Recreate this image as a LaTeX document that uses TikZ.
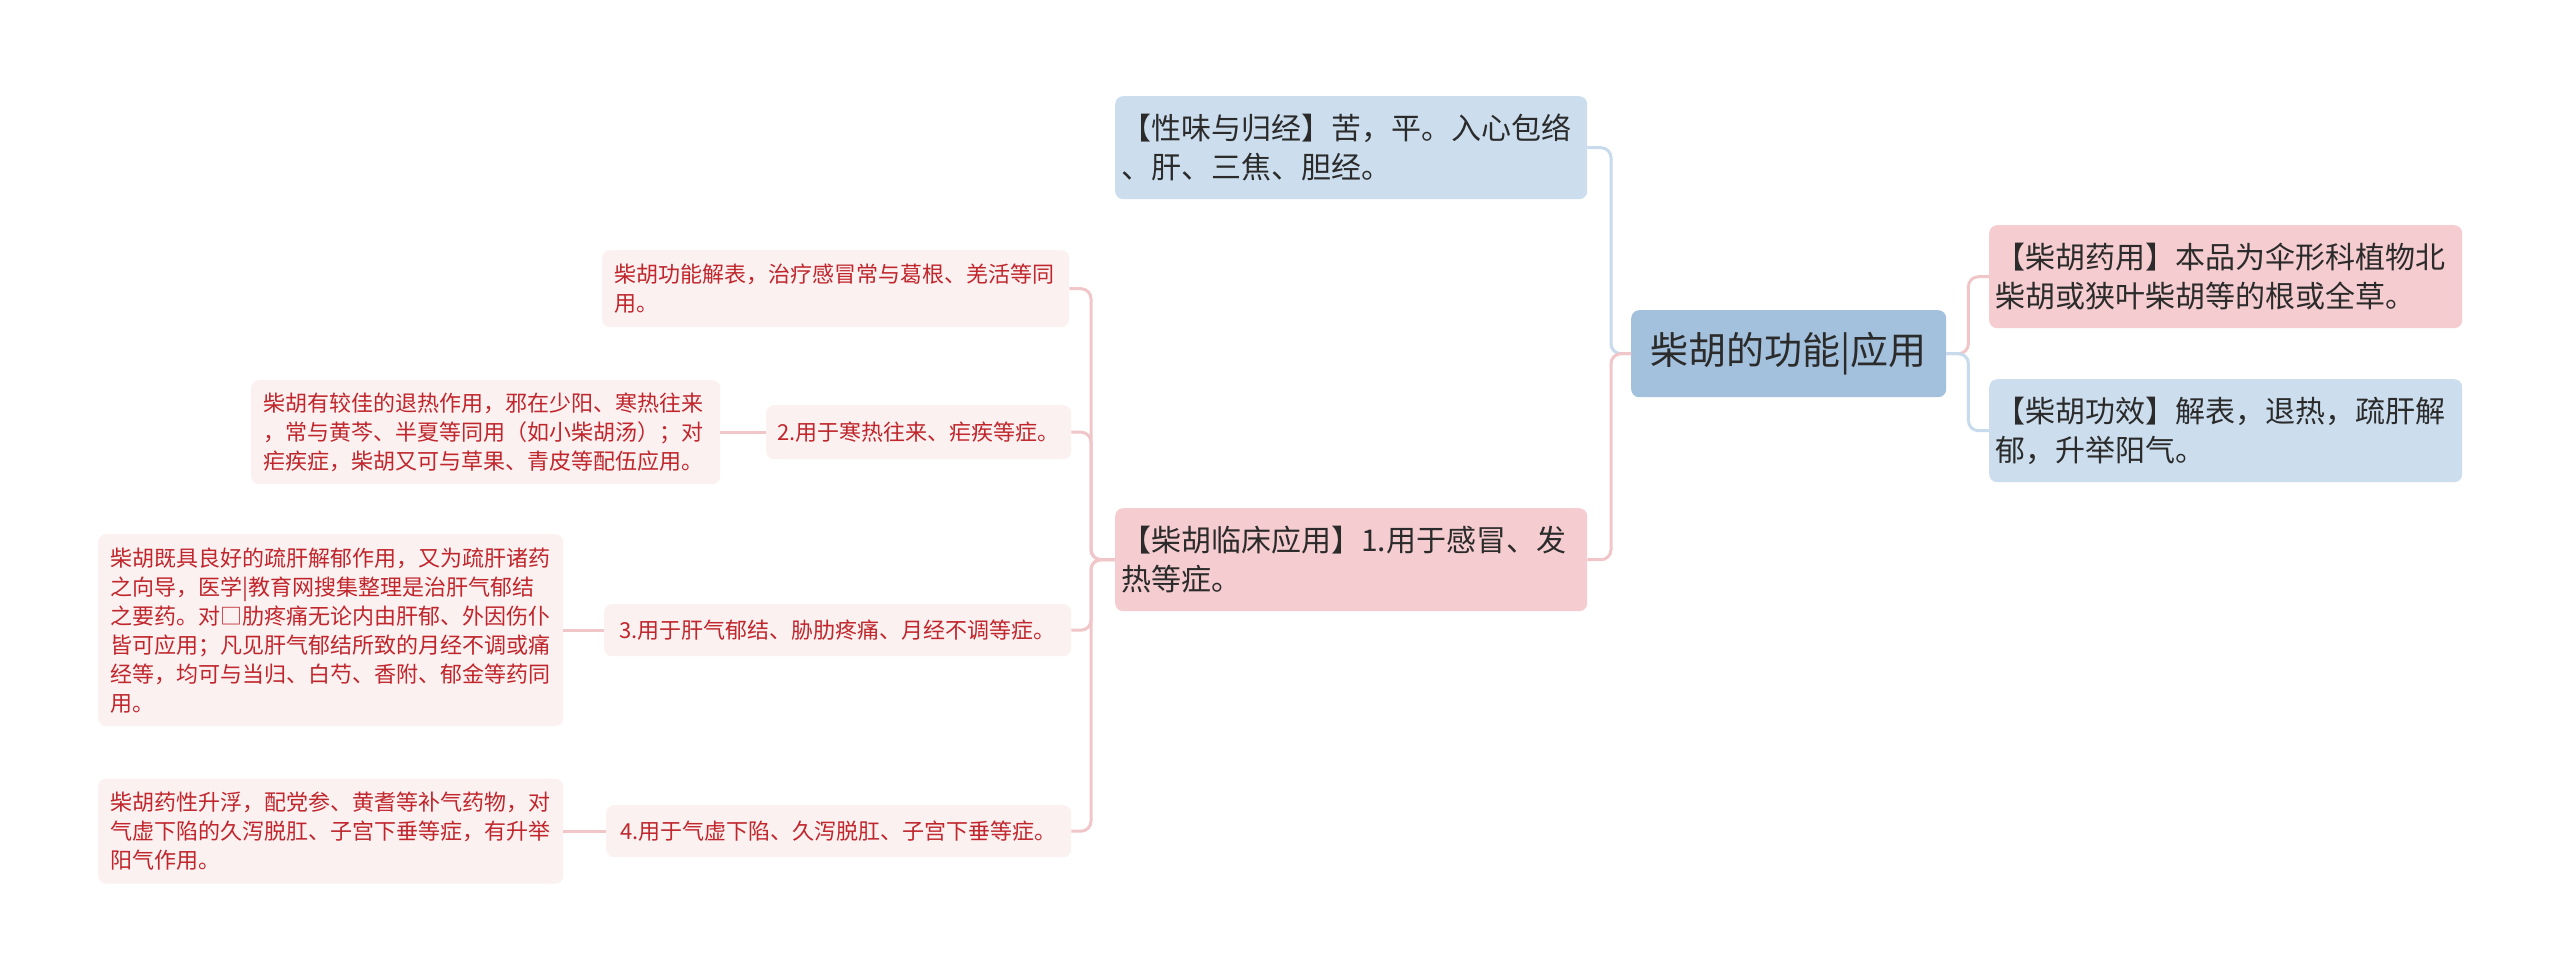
\documentclass[tikz,border=0pt]{standalone}
\usepackage{fontspec}
\setmainfont{Noto Sans CJK SC}
\definecolor{rootfill}{HTML}{A3C1DD}
\definecolor{bluefill}{HTML}{CCDEEE}
\definecolor{pinkfill}{HTML}{F5CCCF}
\definecolor{leaffill}{HTML}{FCF1F1}
\definecolor{leaftext}{HTML}{C0262C}
\definecolor{darktext}{HTML}{2B2B2B}
\definecolor{pinkline}{HTML}{F1C6C9}
\definecolor{blueline}{HTML}{C7DBEC}
\begin{document}
\begin{tikzpicture}[x=1pt,y=-1pt,
  box/.style={draw=none, rounded corners=8pt, anchor=north west, inner ysep=0pt, text=darktext},
  mainbox/.style={box, inner xsep=6pt, text width=460pt, minimum height=103pt, align=left, font=\fontsize{30}{39}\selectfont},
  leafbox/.style={box, fill=leaffill, text=leaftext, inner xsep=12pt, align=left, font=\fontsize{22}{29}\selectfont},
  subbox/.style={box, fill=leaffill, text=leaftext, inner xsep=0pt, align=center, font=\fontsize{22}{29}\selectfont, minimum height=52pt},
  pconn/.style={draw=pinkline, line width=3pt, rounded corners=10pt},
  bconn/.style={draw=blueline, line width=3pt, rounded corners=10pt}]
\useasboundingbox (0,0) rectangle (2560,980);
\fill[white] (0,0) rectangle (2560,980);

% root
\node[box, fill=rootfill, minimum width=315pt, minimum height=87pt, inner xsep=0pt,
  font=\fontsize{38}{44}\selectfont, text=darktext] (root) at (1631,310) {柴胡的功能|应用};

% main branches
\node[mainbox, fill=bluefill] (xw) at (1115,96) {【性味与归经】苦，平。入心包络\\、肝、三焦、胆经。};
\node[mainbox, fill=pinkfill] (lc) at (1115,508) {【柴胡临床应用】1.用于感冒、发\\热等症。};
\node[mainbox, fill=pinkfill, text width=461pt] (yy) at (1989,225) {【柴胡药用】本品为伞形科植物北\\柴胡或狭叶柴胡等的根或全草。};
\node[mainbox, fill=bluefill, text width=461pt] (gx) at (1989,379) {【柴胡功效】解表，退热，疏肝解\\郁，升举阳气。};

% clinical sub-branches
\node[leafbox, text width=443pt, minimum height=77pt] (l1) at (602,250) {柴胡功能解表，治疗感冒常与葛根、羌活等同\\用。};
\node[subbox, minimum width=305pt, minimum height=54pt] (n2) at (766,405) {2.用于寒热往来、疟疾等症。};
\node[leafbox, text width=445pt, minimum height=104pt] (l2) at (251,380) {柴胡有较佳的退热作用，邪在少阳、寒热往来\\，常与黄芩、半夏等同用（如小柴胡汤）；对\\疟疾症，柴胡又可与草果、青皮等配伍应用。};
\node[subbox, minimum width=467pt] (n3) at (604,604) {3.用于肝气郁结、胁肋疼痛、月经不调等症。};
\node[leafbox, text width=441pt, minimum height=192pt] (l3) at (98,534) {柴胡既具良好的疏肝解郁作用，又为疏肝诸药\\之向导，医学|教育网搜集整理是治肝气郁结\\之要药。对□肋疼痛无论内由肝郁、外因伤仆\\皆可应用；凡见肝气郁结所致的月经不调或痛\\经等，均可与当归、白芍、香附、郁金等药同\\用。};
\node[subbox, minimum width=465pt] (n4) at (606,805) {4.用于气虚下陷、久泻脱肛、子宫下垂等症。};
\node[leafbox, text width=441pt, minimum height=105pt] (l4) at (98,778.5) {柴胡药性升浮，配党参、黄耆等补气药物，对\\气虚下陷的久泻脱肛、子宫下垂等症，有升举\\阳气作用。};

% connectors from root
\draw[bconn] (root.west) -- ++(-20,0) |- (xw.east);
\draw[pconn] (root.west) -- ++(-20,0) |- (lc.east);
\draw[pconn] (root.east) -- ++(22,0) |- (yy.west);
\draw[bconn] (root.east) -- ++(22,0) |- (gx.west);

% connectors from clinical branch
\draw[pconn] (lc.west) -- ++(-24,0) |- (l1.east);
\draw[pconn] (lc.west) -- ++(-24,0) |- (n2.east);
\draw[pconn] (lc.west) -- ++(-24,0) |- (n3.east);
\draw[pconn] (lc.west) -- ++(-24,0) |- (n4.east);

\draw[pconn] (n2.west) -- (l2.east);
\draw[pconn] (n3.west) -- (l3.east);
\draw[pconn] (n4.west) -- (l4.east);
\end{tikzpicture}
\end{document}
